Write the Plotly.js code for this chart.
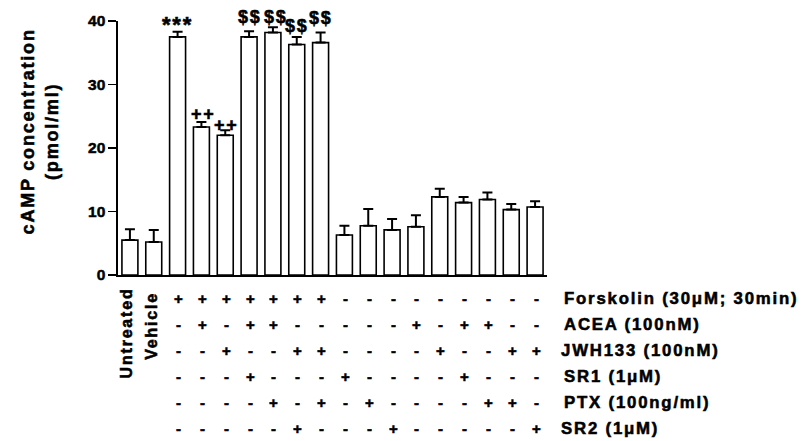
<!DOCTYPE html>
<html>
<head>
<meta charset="utf-8">
<script src="https://cdn.plot.ly/plotly-3.0.1.min.js"></script>
<style>
  html, body { margin: 0; padding: 0; background: #fff; }
  #chart { width: 802px; height: 441px; }
  .annotation-text { letter-spacing: 1.8px; font-weight: 700 !important; stroke: #000; stroke-width: 0.55px; }
  .ytick text { font-weight: 700 !important; stroke: #000; stroke-width: 0.5px; }
</style>
</head>
<body>
<div id="chart"></div>
<script>
// ---- Data ----
const categories = ['Untreated','Vehicle','FSK','FSK+ACEA','FSK+JWH133','FSK+ACEA+SR1','FSK+ACEA+PTX','FSK+JWH133+SR2','FSK+JWH133+PTX','SR1','PTX','SR2','ACEA','JWH133','ACEA+SR1','ACEA+PTX','JWH133+PTX','JWH133+SR2'];
const camp = [5.5, 5.2, 37.5, 23.3, 22.0, 37.5, 38.2, 36.3, 36.6, 6.3, 7.75, 7.1, 7.6, 12.3, 11.4, 11.9, 10.3, 10.7];
const sem  = [1.7, 1.9, 0.8, 0.8, 0.8, 0.9, 0.8, 1.2, 1.6, 1.45, 2.65, 1.7, 1.8, 1.3, 0.9, 1.1, 0.9, 0.9];

const rowLabels = ['Forskolin (30μM; 30min)', 'ACEA (100nM)', 'JWH133 (100nM)', 'SR1 (1μM)', 'PTX (100ng/ml)', 'SR2 (1μM)'];
const forskolin = ['', '', '+','+','+','+','+','+','+','-','-','-','-','-','-','-','-','-'];
const acea      = ['', '', '-','+','-','+','+','-','-','-','-','-','+','-','+','+','-','-'];
const jwh133    = ['', '', '-','-','+','-','-','+','+','-','-','-','-','+','-','-','+','+'];
const sr1       = ['', '', '-','-','-','+','-','-','-','+','-','-','-','-','+','-','-','-'];
const ptx       = ['', '', '-','-','-','-','+','-','+','-','+','-','-','-','-','+','+','-'];
const sr2       = ['', '', '-','-','-','-','-','+','-','-','-','+','-','-','-','-','-','+'];
const signRows = [forskolin, acea, jwh133, sr1, ptx, sr2];

const sigLabels = ['', '', '***', '++', '++', '$$', '$$', '$$', '$$', '', '', '', '', '', '', '', '', ''];

// ---- Styling / layout helpers ----
const FONT = 'Liberation Sans, Arial, Helvetica, sans-serif';
const sigSize  = {'***': 22, '++': 18, '$$': 18};
const sigShift = [0, 0, 7, 8, 5, 14, 10, 11, 14, 0, 0, 0, 0, 0, 0, 0, 0, 0];
const sigXShift = [0, 0, 0, 2, 1, 1, 3, 0, 0, 0, 0, 0, 0, 0, 0, 0, 0, 0];
const rowPx = [23, 49, 75.5, 101, 127.5, 153.5];   // offsets below the x axis line
const labelX = [1.035, 1.035, 1.028, 1.035, 1.035, 1.028];

const annotations = [];

// y axis title
annotations.push({
  xref: 'paper', yref: 'paper', x: -0.182, y: 0.565,
  xanchor: 'center', yanchor: 'middle', textangle: -90,
  text: 'cAMP concentration<br>(pmol/ml)', showarrow: false,
  font: {family: FONT, size: 18, color: '#000', weight: 700}
});

// rotated category labels
[[0, 10], [1, 15]].forEach(([i, off]) => {
  annotations.push({
    xref: 'x', yref: 'paper', x: categories[i], y: 0, yshift: -off, xshift: -3,
    xanchor: 'center', yanchor: 'top', textangle: -90,
    text: categories[i], showarrow: false,
    font: {family: FONT, size: 16, color: '#000', weight: 700}
  });
});

// significance markers
sigLabels.forEach((s, i) => {
  if (!s) return;
  annotations.push({
    xref: 'x', yref: 'y', x: categories[i], y: camp[i] + sem[i],
    yshift: sigShift[i], xshift: sigXShift[i],
    xanchor: 'center', yanchor: 'middle',
    text: s, showarrow: false,
    font: {family: FONT, size: sigSize[s], color: '#000', weight: 700}
  });
});

// treatment table
signRows.forEach((row, r) => {
  row.forEach((s, i) => {
    if (!s) return;
    annotations.push({
      xref: 'x', yref: 'paper', x: categories[i], y: 0,
      yshift: -rowPx[r], xshift: 2,
      xanchor: 'center', yanchor: 'middle',
      text: s, showarrow: false,
      font: {family: FONT, size: 15, color: '#000', weight: 700}
    });
  });
  annotations.push({
    xref: 'paper', yref: 'paper', x: labelX[r], y: 0,
    yshift: -rowPx[r], xanchor: 'left', yanchor: 'middle',
    text: rowLabels[r], showarrow: false,
    font: {family: FONT, size: 16.8, color: '#000', weight: 700}
  });
});

const trace = {
  type: 'bar',
  x: categories,
  y: camp,
  width: 0.67,
  marker: {color: '#ffffff', line: {color: '#000000', width: 1.6}},
  error_y: {
    type: 'data', symmetric: false, array: sem,
    arrayminus: sem.map(() => 0),
    color: '#000000', thickness: 2, width: 5
  },
  cliponaxis: false,
  hoverinfo: 'none'
};

const layout = {
  width: 802, height: 441,
  margin: {l: 118, r: 255, t: 21, b: 166, pad: 0},
  paper_bgcolor: '#ffffff', plot_bgcolor: '#ffffff',
  showlegend: false,
  xaxis: {
    type: 'category', range: [-0.5, 17.5],
    showline: true, linecolor: '#000', linewidth: 1.6,
    showticklabels: false, ticks: '', showgrid: false, zeroline: false,
    fixedrange: true
  },
  yaxis: {
    range: [0, 40], tickvals: [0, 10, 20, 30, 40],
    showline: true, linecolor: '#000', linewidth: 1.6,
    ticks: 'outside', ticklen: 8, tickwidth: 1.6, tickcolor: '#000',
    showgrid: false, zeroline: false,
    tickfont: {family: FONT, size: 15.5, color: '#000', weight: 700},
    fixedrange: true
  },
  annotations: annotations
};

Plotly.newPlot('chart', [trace], layout, {staticPlot: true, displayModeBar: false});
</script>
</body>
</html>
